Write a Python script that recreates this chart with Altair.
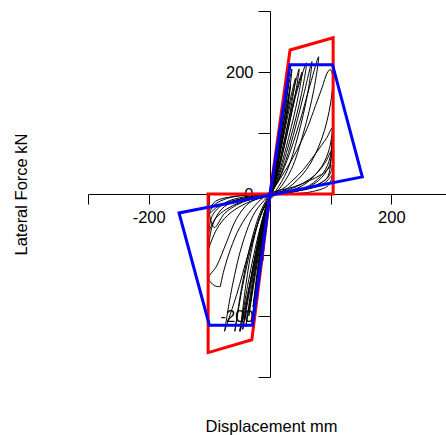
import altair as alt
import pandas as pd

# ---- envelope polygons (displacement mm, force kN) ----
red_x = [0, 33, 104, 104, -102, -102, -30, 0]
red_y = [0, 236, 256, 0, 0, -260, -239, 0]

blue_x = [0, 33, 103, 152, -150, -100, -29, 0]
blue_y = [0, 212, 212, 28, -31, -215, -215, 0]

# ---- hysteresis loops ----
loop_01 = [(-8,-70),(-5,-40),(-2,-15),(0,0),(2,10),(5,32),(8,55),(11,80),(9,55),(5,25),(2,6),(0,-2),(-3,-18),(-6,-45),(-8,-70)]
loop_02 = [(-12,-110),(-8,-65),(-4,-28),(0,-3),(3,12),(7,42),(12,80),(16,115),(13,80),(8,40),(3,10),(0,-3),(-4,-26),(-8,-65),(-12,-110)]
loop_03 = [(-18,-150),(-12,-90),(-6,-40),(-1,-6),(3,14),(9,55),(16,105),(22,150),(18,110),(11,55),(5,15),(0,-4),(-5,-35),(-11,-90),(-18,-150)]
loop_04 = [(-22,-170),(-15,-105),(-8,-50),(-2,-10),(3,15),(10,60),(18,115),(26,170),(22,130),(14,70),(6,20),(0,-5),(-6,-40),(-14,-105),(-22,-170)]
loop_05 = [(-26,-195),(-18,-120),(-9,-55),(-2,-10),(4,18),(12,70),(22,135),(31,190),(27,150),(17,80),(7,22),(0,-6),(-7,-45),(-16,-120),(-26,-195)]
loop_06 = [(-28,-185),(-19,-110),(-10,-50),(-2,-10),(4,16),(13,65),(24,125),(34,180),(29,140),(18,75),(7,20),(0,-5),(-8,-45),(-18,-115),(-28,-185)]
loop_07 = [(-30,-210),(-20,-125),(-10,-55),(-2,-10),(5,20),(14,75),(25,145),(36,205),(31,160),(19,85),(8,24),(0,-6),(-8,-48),(-19,-130),(-30,-210)]
loop_08 = [(-35,-200),(-24,-120),(-12,-52),(-3,-10),(6,20),(17,75),(30,140),(42,190),(36,150),(22,80),(9,22),(0,-6),(-10,-48),(-23,-125),(-35,-200)]
loop_09 = [(-40,-218),(-27,-130),(-14,-58),(-3,-10),(7,22),(19,78),(34,150),(48,205),(41,160),(25,85),(10,22),(0,-6),(-11,-50),(-26,-135),(-40,-218)]
loop_10 = [(-45,-222),(-31,-135),(-16,-60),(-4,-12),(8,22),(22,80),(38,150),(53,200),(46,158),(28,82),(11,22),(0,-6),(-13,-52),(-30,-140),(-45,-222)]
loop_11 = [(-50,-225),(-35,-140),(-18,-62),(-4,-12),(8,20),(24,80),(42,160),(60,215),(52,165),(32,85),(12,22),(0,-7),(-14,-55),(-33,-145),(-50,-225)]
loop_12 = [(-75,-225),(-62,-150),(-45,-80),(-25,-30),(-5,-5),(10,15),(28,55),(48,115),(65,175),(80,225),(72,170),(55,100),(35,40),(15,8),(0,-6),(-15,-35),(-35,-95),(-55,-165),(-75,-225)]
loop_13 = [(-58,-225),(-48,-160),(-34,-90),(-18,-35),(-4,-6),(12,18),(38,60),(60,105),(75,145),(86,175),(94,198),(99,204),(103,195),(100,150),(85,90),(60,40),(30,10),(5,-4),(-10,-22),(-28,-75),(-45,-150),(-58,-225)]
loop_14 = [(-49,-225),(-40,-150),(-28,-80),(-14,-30),(-2,-5),(10,15),(26,55),(42,110),(56,165),(69,217),(62,165),(46,95),(28,38),(10,6),(0,-6),(-12,-40),(-26,-110),(-38,-175),(-49,-225)]
loop_15 = [(-101,-89),(-96,-55),(-80,-25),(-55,-10),(-25,-3),(0,2),(20,8),(38,23),(55,40),(71,61),(85,80),(94,93),(102,108),(98,75),(85,45),(60,18),(30,4),(5,-2),(-20,-8),(-45,-18),(-70,-35),(-88,-58),(-101,-89)]
loop_16 = [(-101,-62),(-95,-35),(-75,-15),(-50,-6),(-20,-2),(0,1),(30,7),(55,18),(75,32),(90,50),(102,72),(97,45),(80,22),(55,8),(25,1),(0,-2),(-25,-6),(-50,-14),(-72,-25),(-90,-40),(-101,-62)]
loop_17 = [(-82,-152),(-76,-125),(-65,-90),(-50,-55),(-30,-25),(-10,-5),(10,4),(40,12),(65,22),(85,32),(102,46),(96,28),(75,14),(45,5),(15,0),(-10,-4),(-35,-15),(-55,-40),(-72,-80),(-88,-118),(-101,-138),(-92,-150),(-82,-152)]
loop_18 = [(-101,-34),(-92,-18),(-70,-7),(-40,-2),(0,0),(40,4),(70,10),(90,18),(102,30),(96,14),(70,4),(35,0),(0,-2),(-35,-6),(-65,-12),(-88,-22),(-101,-34)]
loop_19 = [(-101,-28),(-90,-12),(-60,-4),(-20,0),(20,3),(55,8),(80,16),(95,28),(102,89),(99,60),(88,35),(65,14),(35,3),(0,-2),(-30,-8),(-55,-18),(-75,-32),(-92,-55),(-101,-28)]

loops = [loop_01, loop_02, loop_03, loop_04, loop_05, loop_06, loop_07, loop_08, loop_09,
         loop_10, loop_11, loop_12, loop_13, loop_14, loop_15, loop_16, loop_17, loop_18, loop_19]

rows = []
for k, lp in enumerate(loops):
    for i, (px, py) in enumerate(lp):
        rows.append({"loop": k, "i": i, "x": px, "y": py})
df_loops = pd.DataFrame(rows)
df_red = pd.DataFrame({"x": red_x, "y": red_y, "i": list(range(len(red_x)))})
df_blue = pd.DataFrame({"x": blue_x, "y": blue_y, "i": list(range(len(blue_x)))})

FS = 16.5
FONT = "Liberation Sans"
X = alt.X("x:Q",
          scale=alt.Scale(domain=[-300, 290], nice=False, zero=False),
          axis=alt.Axis(values=[-300, -200, -100, 0, 100, 200],
                        labelExpr="datum.value == 200 ? '200' : (datum.value == -200 ? '-200' : '')",
                        offset=-183, tickSize=10, labelPadding=5, grid=False,
                        domainColor="black", tickColor="black", labelColor="black",
                        labelFont=FONT, titleFont=FONT,
                        labelFontSize=FS, title="Displacement mm", titleFontSize=FS,
                        titleFontWeight="normal", titleColor="black",
                        titleX=183, titleY=237, titleBaseline="alphabetic", titleAlign="center"))
Y = alt.Y("y:Q",
          scale=alt.Scale(domain=[-300, 300], nice=False, zero=False),
          axis=alt.Axis(values=[-300, -200, -100, 0, 100, 200, 300],
                        labelExpr="datum.value == 200 ? '200' : (datum.value == -200 ? '-200' : (datum.value == 0 ? '0' : ''))",
                        offset=-182, tickSize=12, labelPadding=5, grid=False,
                        domainColor="black", tickColor="black", labelColor="black",
                        labelFont=FONT, titleFont=FONT,
                        labelFontSize=FS, title="Lateral Force kN", titleFontSize=FS,
                        titleFontWeight="normal", titleColor="black",
                        titleX=-244, titleY=183, titleBaseline="alphabetic", titleAlign="center"))

black = alt.Chart(df_loops).mark_line(color="black", strokeWidth=1, interpolate="catmull-rom").encode(
    x=X, y=Y, detail="loop:N", order="i:Q")
red = alt.Chart(df_red).mark_line(color="#ff0000", strokeWidth=3).encode(x=X, y=Y, order="i:Q")
blue = alt.Chart(df_blue).mark_line(color="#0000ff", strokeWidth=3).encode(x=X, y=Y, order="i:Q")

chart = alt.layer(black, red, blue).properties(
    width=358, height=366,
    padding={"left": 88, "top": 11, "right": 0, "bottom": 58},
    autosize=alt.AutoSizeParams(type="none"),
).configure_view(stroke=None)

chart.save("out.html", embed_options={"renderer": "svg", "actions": False})
